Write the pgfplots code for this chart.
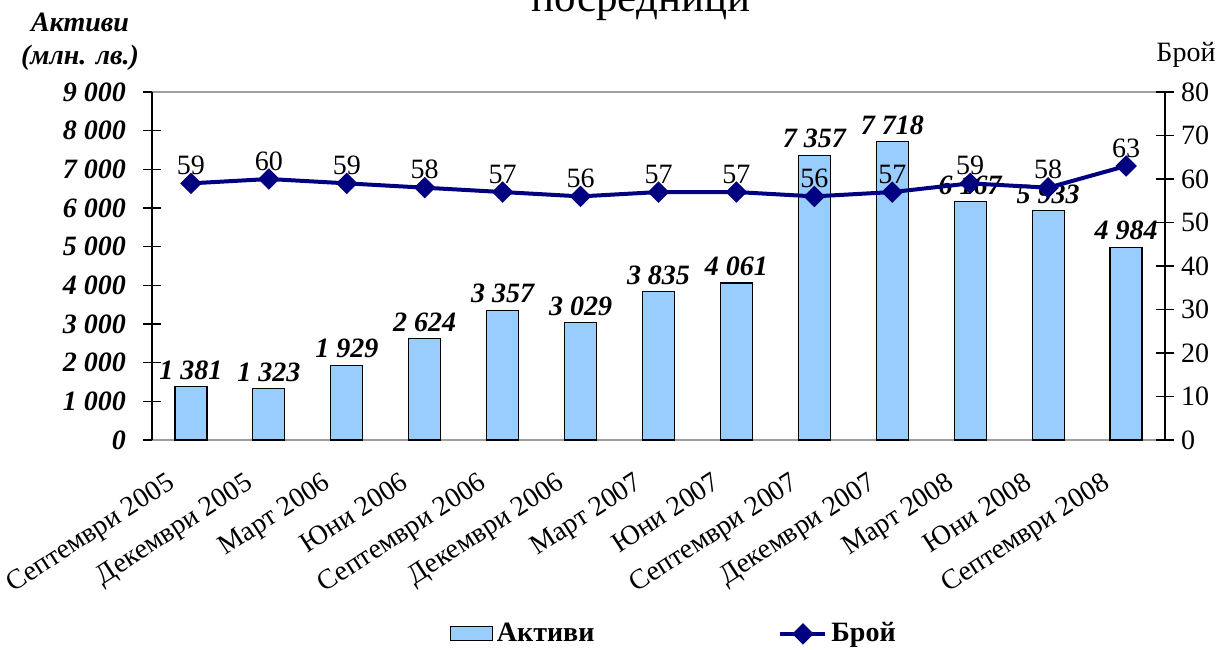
\documentclass[border=0pt]{standalone}
\usepackage{fontspec}
\setmainfont{Liberation Serif}
\usepackage{pgfplots}
\pgfplotsset{compat=1.18}
\definecolor{barblue}{HTML}{99CCFF}
\definecolor{navyline}{HTML}{000080}
\newcommand{\fs}{\fontsize{14}{16}\selectfont}
\pgfplotsset{
  barlegend/.style={legend image code/.code={\draw[##1] (0pt,-3.5pt) rectangle (21pt,3.5pt);}},
  linelegend/.style={legend image code/.code={\draw[mark repeat=2,mark phase=2,##1] plot coordinates {(0pt,0pt) (11.25pt,0pt) (22.5pt,0pt)};}},
}
\begin{document}
\begin{tikzpicture}[font=\fs]
\useasboundingbox (-76pt,-104.5pt) rectangle (534pt,220pt);
\begin{axis}[
  at={(0pt,0pt)}, anchor=south west,
  scale only axis, width=506.5pt, height=174pt,
  xmin=-0.5, xmax=12.5, ymin=0, ymax=9000,
  /pgf/number format/assume math mode=true,
  ytick={0,1000,...,9000},
  yticklabel={\pgfmathprintnumber[1000 sep={\ }]{\tick}},
  yticklabel style={font=\fs\bfseries\itshape, xshift=-5pt},
  xtick={0,...,12},
  xticklabels={Септември 2005,Декември 2005,Март 2006,Юни 2006,Септември 2006,Декември 2006,Март 2007,Юни 2007,Септември 2007,Декември 2007,Март 2008,Юни 2008,Септември 2008},
  xticklabel style={rotate=33, anchor=north east, font=\fs, inner sep=1pt, yshift=2.5pt, xshift=-13pt},
  xtick style={draw=none},
  ytick pos=left,
  tick align=center, major tick length=9pt,
  ytick style={black, line width=0.6pt},
  separate axis lines,
  every outer x axis line/.append style={draw=gray!75, line width=0.8pt},
  every outer y axis line/.append style={draw=black, line width=0.6pt},
  ybar, bar width=16pt,
  nodes near coords={\pgfmathprintnumber[1000 sep={\ }, assume math mode=true]{\pgfplotspointmeta}},
  every node near coord/.append style={font=\fs\bfseries\itshape, black},
  clip=false,
]
\addplot[fill=barblue, draw=black, line width=0.6pt] coordinates {
(0,1381) (1,1323) (2,1929) (3,2624) (4,3357) (5,3029) (6,3835)
(7,4061) (8,7357) (9,7718) (10,6167) (11,5933) (12,4984)};
\end{axis}
\begin{axis}[
  at={(0pt,0pt)}, anchor=south west,
  scale only axis, width=506.5pt, height=174pt,
  xmin=-0.5, xmax=12.5, ymin=0, ymax=80,
  /pgf/number format/assume math mode=true,
  axis y line*=right, axis x line=none,
  ytick={0,10,...,80},
  yticklabel style={font=\fs},
  tick align=center, major tick length=9pt,
  ytick style={black, line width=0.6pt},
  y axis line style={black, line width=0.6pt},
  clip=false,
  legend columns=2,
  legend style={draw=none, at={(0.516,-0.557)}, anchor=center,
    font=\fs\bfseries, /tikz/every even column/.append style={column sep=90pt}},
]
\addlegendimage{fill=barblue, draw=black, line width=0.6pt, barlegend}
\addlegendentry{Активи}
\addplot[navyline, line width=2pt, mark=square*, mark size=2.8pt,
  mark options={rotate=45, solid},
  nodes near coords={\pgfmathprintnumber[assume math mode=true]{\pgfplotspointmeta}},
  every node near coord/.append style={black, font=\fs},
  linelegend]
coordinates {
(0,59) (1,60) (2,59) (3,58) (4,57) (5,56) (6,57)
(7,57) (8,56) (9,57) (10,59) (11,58) (12,63)};
\addlegendentry{Брой}
\end{axis}
\node[anchor=base, font=\fontsize{21.5}{24}\selectfont] at (244.5pt,214pt) {посредници};
\node[anchor=base, font=\fs\bfseries\itshape] at (-36pt,204pt) {Активи};
\node[anchor=base, font=\fs\bfseries\itshape] at (-36pt,187.5pt) {(млн. лв.)};
\node[anchor=base, font=\fs] at (517pt,189pt) {Брой};
\end{tikzpicture}
\end{document}
